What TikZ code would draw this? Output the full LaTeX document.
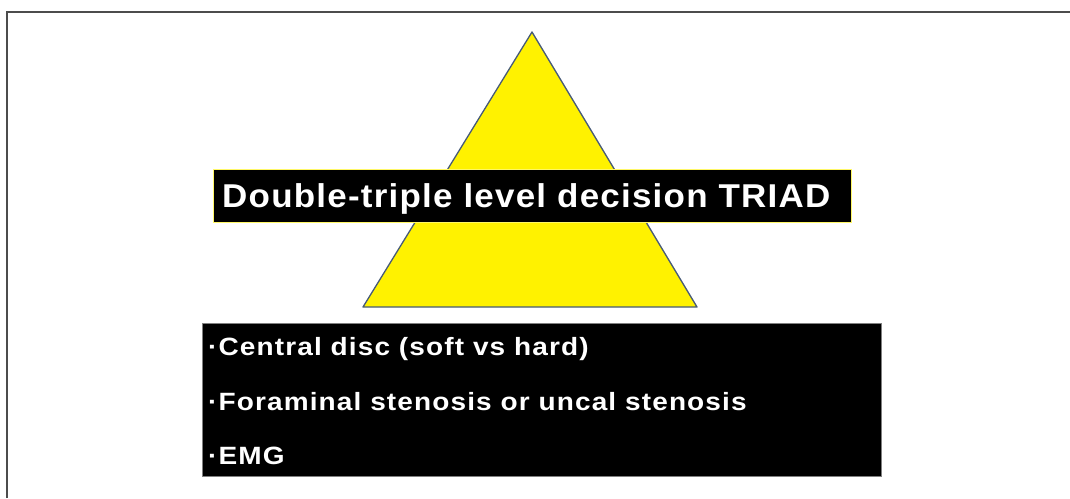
\documentclass[tikz,border=0pt]{standalone}
\usepackage{fontspec}
\setmainfont{Liberation Sans}
\newfontfamily\listfont[LetterSpace=4]{Liberation Sans}
\newfontfamily\titlefont[LetterSpace=3.5]{Liberation Sans}
\begin{document}
\begin{tikzpicture}[x=1pt,y=-1pt,
  box/.style={fill=black, inner sep=0pt, outer sep=0pt},
  txt/.style={text=white, inner sep=0pt, anchor=base west},
  frameline/.style={draw=black!70, line width=1.5pt}]
\useasboundingbox (0,0) rectangle (1070,498);
% frame
\coordinate (fa) at (7,498);
\coordinate (fb) at (7,12);
\coordinate (fc) at (1070,12);
\draw[frameline] (fa) -- (fb) -- (fc);
% triangle
\coordinate (apex) at (532,32);
\coordinate (bl) at (363,307);
\coordinate (br) at (697,307);
\draw[draw={rgb,255:red,70;green,90;blue,120}, line width=1.3pt, fill=yellow, line join=round] (apex) -- (br) -- (bl) -- cycle;
% title box
\node[box, draw=yellow!60!white, line width=0.6pt, minimum width=638pt, minimum height=53pt] (title) at (532,195.5) {};
\node[txt] (titletext) at (222,207) {\scalebox{1.06}[1]{\titlefont\bfseries\fontsize{33}{38}\selectfont Double-triple level decision TRIAD}};
% list box
\node[box, draw=gray, line width=0.6pt, minimum width=679pt, minimum height=153pt] (list) at (541.5,399.5) {};
\node[txt] (l1) at (208,355) {\scalebox{1.12}[1]{\listfont\bfseries\fontsize{25}{28}\selectfont ·Central disc (soft vs hard)}};
\node[txt] (l2) at (208,410) {\scalebox{1.12}[1]{\listfont\bfseries\fontsize{25}{28}\selectfont ·Foraminal stenosis or uncal stenosis}};
\node[txt] (l3) at (208,464) {\scalebox{1.12}[1]{\listfont\bfseries\fontsize{25}{28}\selectfont ·EMG}};
\end{tikzpicture}
\end{document}
